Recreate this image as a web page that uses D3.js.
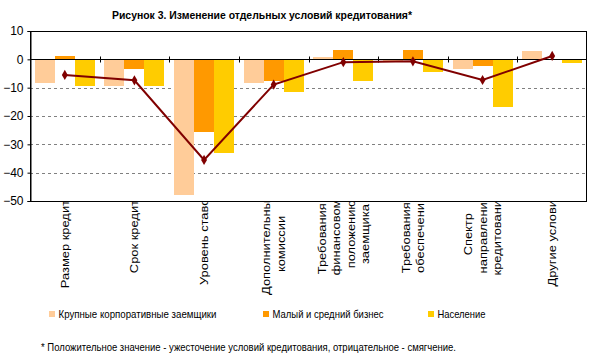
<!DOCTYPE html>
<html><head><meta charset="utf-8">
<script src="https://cdn.jsdelivr.net/npm/d3@7"></script>
<style>
body{margin:0;background:#fff;}
svg{display:block;font-family:Arial,"Liberation Sans",sans-serif;}
</style></head>
<body>
<svg id="c" width="601" height="363"></svg>
<script>
const title = "Рисунок 3. Изменение отдельных условий кредитования*";
const footnote = "* Положительное значение - ужесточение условий кредитования, отрицательное - смягчение.";
const categories = [
  ["Размер кредита"],
  ["Срок кредита"],
  ["Уровень ставок"],
  ["Дополнительные","комиссии"],
  ["Требования к","финансовому","положению","заемщика"],
  ["Требования к","обеспечению"],
  ["Спектр","направлений","кредитования"],
  ["Другие условия"]
];
const seriesNames = ["Крупные корпоративные заемщики","Малый и средний бизнес","Население"];
const seriesColors = ["#FFCC99","#FF9900","#FFCC00"];
const large  = [-8.2, -9.3, -48.0, -8.2, 0.9, -0.6, -3.3, 2.9];
const small  = [1.3, -3.4, -25.8, -7.6, 3.4, 3.4, -2.2, 0];
const retail = [-9.3, -9.3, -32.9, -11.4, -7.6, -4.4, -16.7, -1.2];
const average = [-5.5, -7.4, -35.5, -8.9, -1.0, -0.7, -7.3, 1.2];
const yTicks = [10, 0, -10, -20, -30, -40, -50];

(function(){
const svg = d3.select("#c");
const W = 601, H = 363;
const pL = 30, pR = 587, pT = 31, pB = 201;
const catKeys = categories.map((d,i)=>i);
const x = d3.scaleBand().domain(catKeys).range([pL, pR]).paddingInner(0).paddingOuter(0);
const x1 = d3.scaleBand().domain([0,1,2]).range([x.bandwidth()*0.069, x.bandwidth()*0.931]).padding(0);
const y = d3.scaleLinear().domain([-50, 10]).range([pB, pT]);

const series = [large, small, retail];

// title
svg.append("text").attr("x", 262).attr("y", 19).attr("text-anchor","middle")
  .attr("font-weight","bold").attr("font-size","11px")
  .attr("textLength", 300).attr("lengthAdjust","spacingAndGlyphs").text(title);

// gridlines
svg.append("g").selectAll("line").data(yTicks.filter(v=>v<0 && v>-50)).join("line")
  .attr("x1", pL).attr("x2", pR)
  .attr("y1", d=>Math.round(y(d))+0.5).attr("y2", d=>Math.round(y(d))+0.5)
  .attr("stroke","#808080").attr("stroke-dasharray","3,3");

// bars
const g = svg.append("g");
series.forEach((vals, si)=>{
  g.append("g").selectAll("rect").data(vals).join("rect")
    .attr("x", (d,i)=>x(i)+x1(si))
    .attr("width", x1.bandwidth())
    .attr("y", d=>y(Math.max(0,d)))
    .attr("height", d=>Math.abs(y(d)-y(0)))
    .attr("fill", seriesColors[si])
    .attr("shape-rendering","crispEdges");
});

// plot border
svg.append("rect").attr("x", pL+0.5).attr("y", Math.round(pT)+0.5)
  .attr("width", pR-pL-1).attr("height", Math.round(pB)-Math.round(pT))
  .attr("fill","none").attr("stroke","#000");

// zero line (category axis)
const y0 = Math.round(y(0))+0.5;
svg.append("line").attr("x1",pL).attr("x2",pR).attr("y1",y0).attr("y2",y0).attr("stroke","#000");
svg.append("g").selectAll("line").data(catKeys.slice(1)).join("line")
  .attr("x1", d=>Math.round(x(d))+0.5).attr("x2", d=>Math.round(x(d))+0.5)
  .attr("y1", y0-3).attr("y2", y0+3).attr("stroke","#000");

// y axis
const yAxis = d3.axisLeft(y).tickValues(yTicks).tickSize(3).tickPadding(4).tickFormat(d3.format("d"));
const ya = svg.append("g").attr("transform",`translate(${pL+0.5},0)`).call(yAxis);
ya.select(".domain").attr("stroke","#000");
ya.selectAll("text").attr("font-size","12px").attr("fill","#000").attr("font-family","Arial, 'Liberation Sans', sans-serif");
ya.selectAll(".tick line").attr("stroke","#000");

// line series
const line = d3.line().x((d,i)=>x(i)+x.bandwidth()/2).y(d=>y(d));
svg.append("path").datum(average).attr("d", line).attr("fill","none")
  .attr("stroke","#800000").attr("stroke-width",2);
svg.append("g").selectAll("path").data(average).join("path")
  .attr("transform",(d,i)=>`translate(${x(i)+x.bandwidth()/2},${y(d)})`)
  .attr("d", d3.symbol(d3.symbolDiamond, 30)).attr("fill","#800000");

// category labels
svg.append("clipPath").attr("id","lblclip").append("rect")
  .attr("x",0).attr("y",pB+1).attr("width",W).attr("height",H);
const lg = svg.append("g").attr("clip-path","url(#lblclip)");
const labelTop = 193, lineGap = 14.5, stretch = 1.12;
categories.forEach((lines, i)=>{
  const cx = x(i)+x.bandwidth()/2;
  const grp = lg.append("g");
  const texts = lines.map((t, k)=>{
    return grp.append("text").attr("font-size","11.5px").attr("text-anchor","middle")
      .attr("dy","0.35em").text(t);
  });
  const lens = texts.map(t=>t.node().getComputedTextLength()*stretch);
  texts.forEach((t,k)=>t.attr("textLength", lens[k]).attr("lengthAdjust","spacingAndGlyphs"));
  const maxL = d3.max(lens);
  const cy = labelTop + maxL/2;
  texts.forEach((t,k)=>{
    const lx = cx + (k-(lines.length-1)/2)*lineGap;
    t.attr("transform", `translate(${lx},${cy}) rotate(-90)`);
  });
});

// legend
const legX = [49, 263, 428];
const legLen = [158, 111, 48];
const leg = svg.append("g");
seriesNames.forEach((n,i)=>{
  leg.append("rect").attr("x",legX[i]).attr("y",311).attr("width",6).attr("height",6).attr("fill",seriesColors[i]);
  leg.append("text").attr("x",legX[i]+9.5).attr("y",318).attr("font-size","11.5px")
    .attr("textLength", legLen[i]).attr("lengthAdjust","spacingAndGlyphs").text(n);
});

// footnote
svg.append("text").attr("x",41).attr("y",351).attr("font-size","11.5px")
  .attr("textLength", 415).attr("lengthAdjust","spacingAndGlyphs").text(footnote);
})();
</script>
</body></html>
